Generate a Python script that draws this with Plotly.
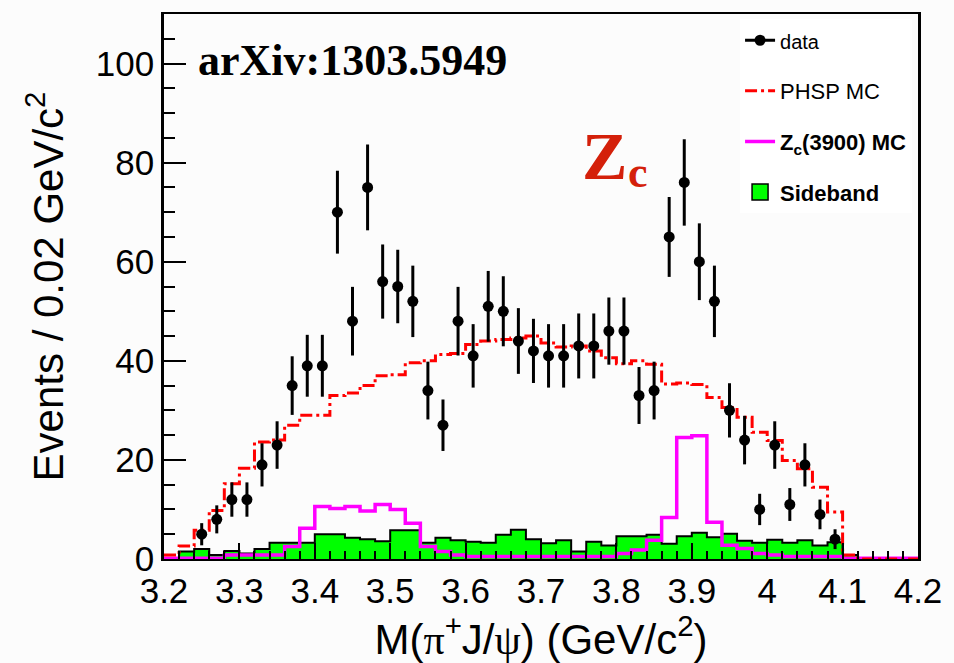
import numpy as np
import plotly.graph_objects as go

# ---------------- data ----------------
# histogram bins: 0.02 GeV/c^2 wide, from 3.20 to 4.20
bin_centers = np.round(np.arange(3.21, 4.20, 0.02), 2)
bin_edges = np.round(np.arange(3.20, 4.2001, 0.02), 2)

# data points (bin centres 3.25 ... 4.09)
data_mass = np.round(np.arange(3.25, 4.0901, 0.02), 2)
data_counts = [5, 8, 12, 12, 19, 23, 35, 39, 39, 70, 48, 75, 56, 55, 52, 34, 27, 48,
               41, 51, 50, 44, 42, 41, 41, 43, 43, 46, 46, 33, 34, 65, 76, 60, 52,
               30, 24, 10, 23, 11, 19, 9, 4]

phsp_mc = [0.8, 2.6, 5.8, 9.8, 15.2, 18.3, 23.6, 24.0, 27.0, 29.0,
           29.0, 33.0, 33.5, 35.0, 37.0, 37.2, 39.6, 40.0, 41.3, 41.5,
           43.3, 44.0, 44.3, 44.6, 45.0, 43.6, 42.8, 43.0, 42.0, 40.6,
           39.4, 40.0, 39.3, 35.3, 35.5, 35.2, 32.6, 30.6, 28.6, 25.6,
           23.9, 19.9, 18.2, 14.5, 9.5, 0.8, 0.0, 0.0, 0.0, 0.0]

zc_mc = [0.15, 0.15, 0.15, 0.15, 0.8, 0.8, 0.8, 0.8, 2.5, 6.2,
         10.6, 10.2, 10.6, 9.7, 11.0, 10.0, 7.2, 2.5, 1.5, 0.8,
         0.5, 0.5, 0.5, 0.5, 0.5, 0.5, 0.5, 0.5, 0.5, 0.5,
         1.1, 1.8, 3.8, 8.4, 24.5, 24.9, 7.4, 2.8, 2.1, 1.1,
         0.8, 0.5, 0.5, 0.5, 0.5, 0.15, 0.15, 0.15, 0.15, 0.15]

sideband = [0.0, 1.5, 2.0, 0.8, 1.6, 1.1, 2.0, 3.3, 3.3, 3.3,
            5.0, 5.0, 4.3, 4.0, 3.6, 5.8, 5.8, 3.3, 4.3, 3.8,
            3.5, 3.3, 4.9, 5.9, 4.0, 3.2, 3.8, 1.5, 3.5, 2.7,
            4.6, 4.6, 4.9, 3.1, 4.6, 5.3, 4.4, 5.1, 3.7, 3.3,
            3.9, 3.3, 3.8, 2.7, 3.4, 0.8, 0.0, 0.0, 0.0, 0.0]

x_tick_vals = [3.2, 3.3, 3.4, 3.5, 3.6, 3.7, 3.8, 3.9, 4.0, 4.1, 4.2]
x_tick_text = ["3.2", "3.3", "3.4", "3.5", "3.6", "3.7", "3.8", "3.9", "4", "4.1", "4.2"]
y_tick_vals = [0, 20, 40, 60, 80, 100]
y_tick_text = ["0", "20", "40", "60", "80", "100"]

# ---------------- figure ----------------
FONT = "Liberation Sans, Arial, Helvetica, sans-serif"
SERIF = "Liberation Serif, Times New Roman, serif"

def step_y(vals):
    return list(vals) + [vals[-1]]

fig = go.Figure()

# sideband fill
fig.add_trace(go.Bar(
    x=bin_centers, y=sideband, width=0.02,
    marker=dict(color="#00ff00", line=dict(width=0)),
    showlegend=False, hoverinfo="skip",
))
# sideband outline (step)
fig.add_trace(go.Scatter(
    x=bin_edges, y=step_y(sideband), mode="lines", line_shape="hv",
    line=dict(color="black", width=2), showlegend=False, hoverinfo="skip",
))
# Zc(3900) MC
fig.add_trace(go.Scatter(
    x=bin_edges, y=step_y(zc_mc), mode="lines", line_shape="hv",
    line=dict(color="#ff00ff", width=3.5),
    name="<b>Z<sub>c</sub>(3900) MC</b>", legendgroup="zc", legendrank=3,
))
# PHSP MC
fig.add_trace(go.Scatter(
    x=bin_edges, y=step_y(phsp_mc), mode="lines", line_shape="hv",
    line=dict(color="#ff0000", width=3, dash="12px,4px,3px,4px"),
    name="PHSP MC", legendgroup="ph", legendrank=2,
))
# data
fig.add_trace(go.Scatter(
    x=data_mass, y=data_counts, mode="markers",
    marker=dict(color="black", size=11),
    error_y=dict(type="data", array=np.sqrt(data_counts), color="black",
                 thickness=3, width=0),
    showlegend=False,
))
# legend entries for data and sideband
fig.add_trace(go.Scatter(
    x=[None], y=[None], mode="lines+markers",
    marker=dict(color="black", size=11), line=dict(color="black", width=3),
    name="<span style='font-size:20px'>data</span>", legendgroup="da", legendrank=1,
))
fig.add_trace(go.Scatter(
    x=[None], y=[None], mode="markers",
    marker=dict(color="#00ff00", size=16, symbol="square",
                line=dict(color="black", width=1.5)),
    name="<b>Sideband</b>", legendgroup="sb", legendrank=4,
))

fig.update_layout(
    width=954, height=663,
    margin=dict(l=164, r=28, t=12, b=104),
    paper_bgcolor="#fcfcfc", plot_bgcolor="#fcfcfc",
    font=dict(family=FONT, color="black"),
    bargap=0,
    showlegend=True,
    legend=dict(
        x=0.764, y=0.99, xanchor="left", yanchor="top",
        bgcolor="white", borderwidth=0,
        font=dict(family=FONT, size=22, color="black"),
        traceorder="grouped", tracegroupgap=19,
        itemwidth=30,
    ),
    xaxis=dict(
        range=[3.2, 4.2], showgrid=False, zeroline=False,
        showline=True, linecolor="black", linewidth=2, mirror=True,
        tickmode="array", tickvals=x_tick_vals, ticktext=x_tick_text,
        ticks="inside", ticklen=16, tickwidth=2, tickcolor="black",
        minor=dict(dtick=0.02, tick0=3.2, ticks="inside", ticklen=8,
                   tickwidth=2, tickcolor="black", showgrid=False),
        tickfont=dict(family=FONT, size=35),
        title=dict(text="M(<span style='font-family:Liberation Serif'>π</span><sup>+</sup>J/<span style='font-family:Liberation Serif'>ψ</span>) (GeV/c<sup>2</sup>)",
                   font=dict(family=FONT, size=42), standoff=2),
    ),
    yaxis=dict(
        range=[0, 110], showgrid=False, zeroline=False,
        showline=True, linecolor="black", linewidth=2.5, mirror=True,
        tickmode="array", tickvals=y_tick_vals, ticktext=y_tick_text,
        ticks="inside", ticklen=22, tickwidth=2, tickcolor="black",
        minor=dict(dtick=5, tick0=0, ticks="inside", ticklen=11,
                   tickwidth=2, tickcolor="black", showgrid=False),
        tickfont=dict(family=FONT, size=35),
        title=dict(text="Events / 0.02 GeV/c<sup>2</sup>",
                   font=dict(family=FONT, size=42), standoff=20),
    ),
    annotations=[
        dict(text="<b>arXiv:1303.5949</b>", x=0.043, y=0.915, xref="paper", yref="paper",
             xanchor="left", yanchor="middle", showarrow=False,
             font=dict(family=SERIF, size=44, color="black")),
        dict(text="<b>Z</b>", x=(609 - 164.5) / 761, y=(559 - 155) / 547,
             xref="paper", yref="paper", xanchor="center", yanchor="middle",
             showarrow=False, font=dict(family=SERIF, size=68, color="#d4200a")),
        dict(text="<b>c</b>", x=(631 - 164.5) / 761, y=(559 - 171) / 547,
             xref="paper", yref="paper", xanchor="left", yanchor="middle",
             showarrow=False, font=dict(family=SERIF, size=44, color="#d4200a")),
    ],
)

fig.write_html("out.html")
